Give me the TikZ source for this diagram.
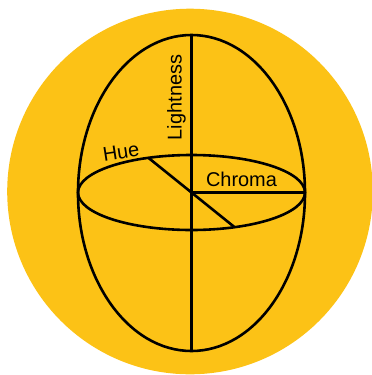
\documentclass[tikz,border=0pt]{standalone}
\usepackage{fontspec}
\setmainfont{Liberation Sans}
\definecolor{sphereyellow}{RGB}{252,194,22}
\begin{document}
\begin{tikzpicture}[x=1bp,y=-1bp,
  outline/.style={draw=black,line width=2.6bp},
  axislabel/.style={inner sep=0pt,font=\fontsize{20}{24}\selectfont}]
\useasboundingbox (0,0) rectangle (372,375);
\fill[sphereyellow] (190,191.5) circle[radius=182.8];
\coordinate (c) at (191.5,192.5);
\coordinate (top) at (191.5,35);
\coordinate (bot) at (191.5,351);
\coordinate (right) at (305,192.5);
\coordinate (hueA) at (148.4,157.8);
\coordinate (hueB) at (234.6,227.2);
\draw[outline] (191.5,193) ellipse[x radius=113.5,y radius=158];
\draw[outline] (c) ellipse[x radius=113.5,y radius=37.5];
\draw[outline] (top) -- (bot);
\draw[outline] (c) -- (right);
\draw[outline] (hueA) -- (hueB);
\node[axislabel,rotate=90] (light) at (176.5,97.5) {Lightness};
\node[axislabel,rotate=9] (hue) at (121,152) {Hue};
\node[axislabel] (chroma) at (241.5,179) {Chroma};
\end{tikzpicture}
\end{document}
